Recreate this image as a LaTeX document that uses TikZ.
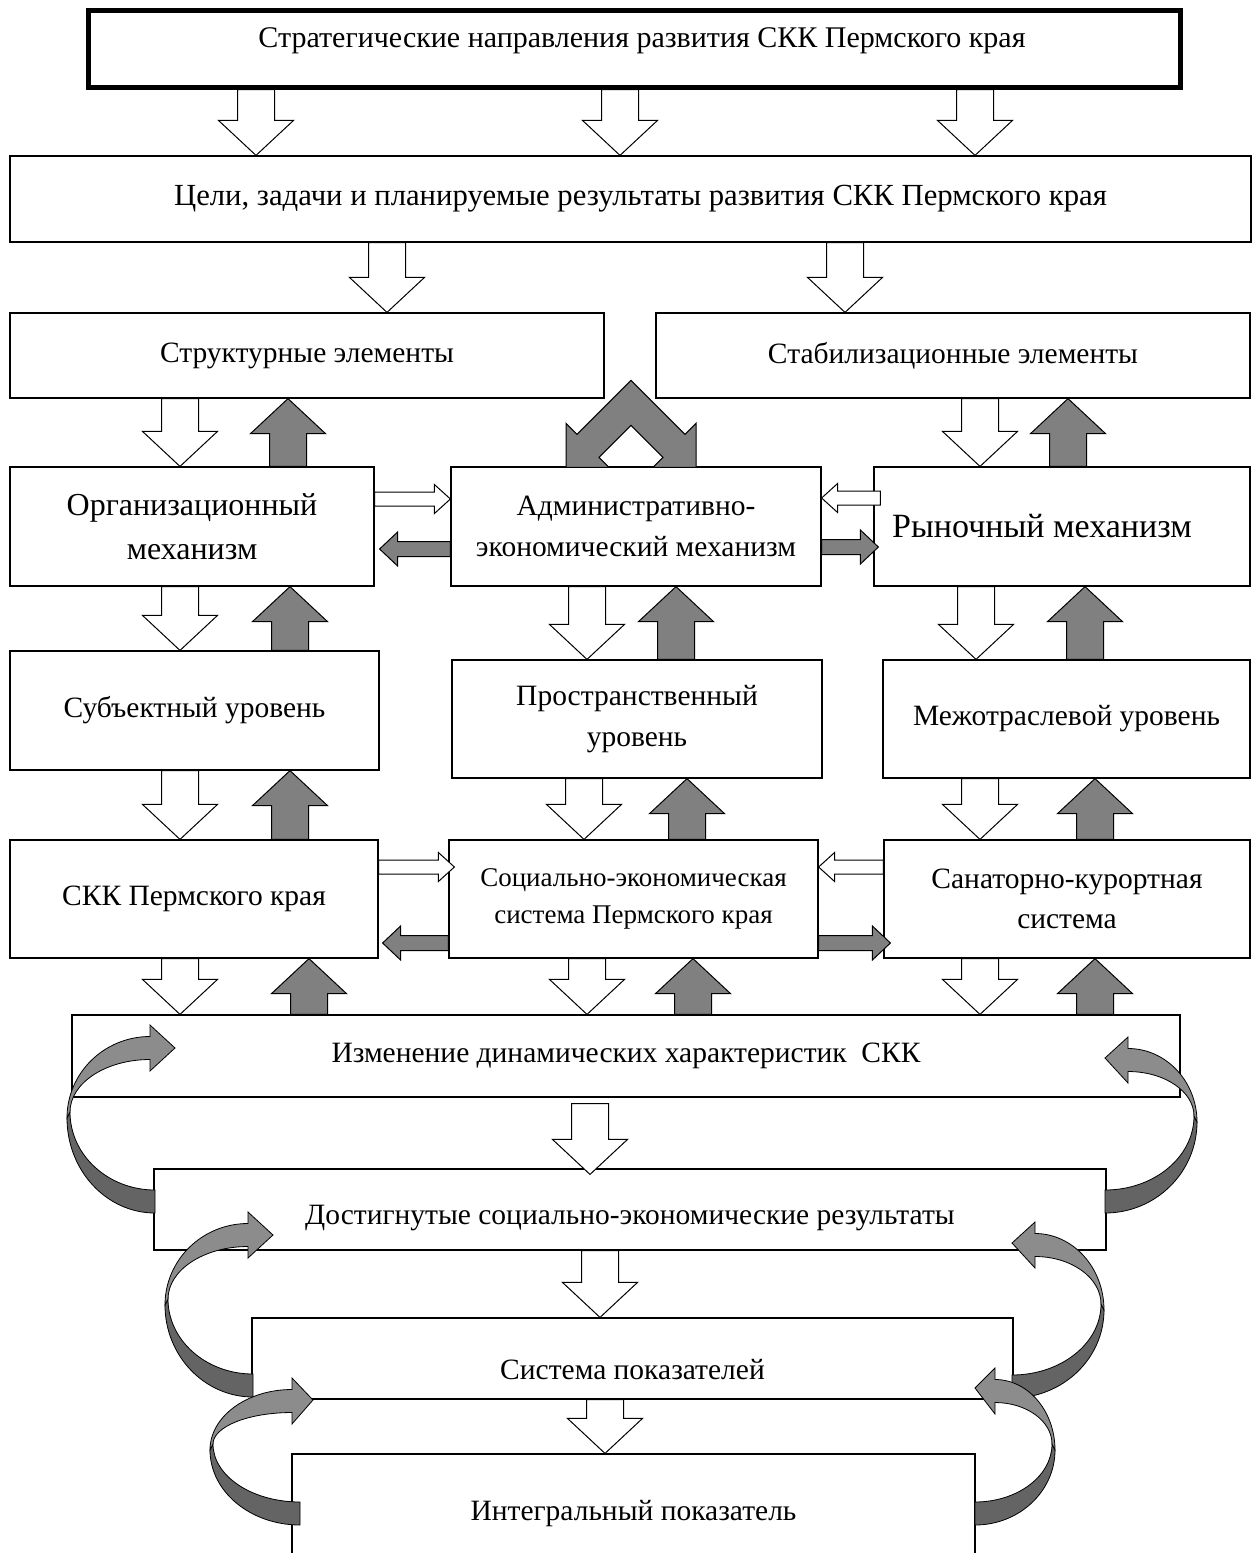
\documentclass[tikz,border=0pt]{standalone}
\usepackage{fontspec}
\setmainfont{Liberation Serif}
\usetikzlibrary{calc}

\definecolor{blockgray}{RGB}{128,128,128}
\definecolor{curllight}{RGB}{140,140,140}
\definecolor{curldark}{RGB}{100,100,100}

\tikzset{
  box/.style={draw=black, line width=1.2pt, rectangle, fill=white, inner sep=0pt,
    align=center, font=\fontsize{29.5}{40.5}\selectfont},
  wblk/.style={fill=white, draw=black, line width=1pt, line join=miter},
  gblk/.style={fill=blockgray, draw=black, line width=1pt, line join=miter},
  curlline/.style={draw=black, line width=0.8pt},
}

% vertical block arrow pointing down: style, x, tail anchor (upper), tip anchor (lower)
\newcommand\dblk[4]{%
  \filldraw[#1] let \p1=(#3), \p2=(#4) in
    ({#2pt-18.5pt},\y1) -- ({#2pt-18.5pt},{\y2+35pt}) -- ({#2pt-37.5pt},{\y2+35pt})
    -- (#2pt,\y2) -- ({#2pt+37.5pt},{\y2+35pt}) -- ({#2pt+18.5pt},{\y2+35pt})
    -- ({#2pt+18.5pt},\y1) -- cycle;}
% vertical block arrow pointing up: style, x, tail anchor (lower), tip anchor (upper)
\newcommand\ublk[4]{%
  \filldraw[#1] let \p1=(#3), \p2=(#4) in
    ({#2pt-18.5pt},\y1) -- ({#2pt-18.5pt},{\y2-35pt}) -- ({#2pt-37.5pt},{\y2-35pt})
    -- (#2pt,\y2) -- ({#2pt+37.5pt},{\y2-35pt}) -- ({#2pt+18.5pt},{\y2-35pt})
    -- ({#2pt+18.5pt},\y1) -- cycle;}
% horizontal block arrow pointing right: style, y, tail, tip, stem half, head half, head length
\newcommand\rblk[7]{%
  \filldraw[#1] let \p1=(#3), \p2=(#4) in
    (\x1,{-#2pt+#5pt}) -- ({\x2-#7pt},{-#2pt+#5pt}) -- ({\x2-#7pt},{-#2pt+#6pt})
    -- (\x2,-#2pt) -- ({\x2-#7pt},{-#2pt-#6pt}) -- ({\x2-#7pt},{-#2pt-#5pt})
    -- (\x1,{-#2pt-#5pt}) -- cycle;}
% horizontal block arrow pointing left
\newcommand\lblk[7]{%
  \filldraw[#1] let \p1=(#3), \p2=(#4) in
    (\x1,{-#2pt+#5pt}) -- ({\x2+#7pt},{-#2pt+#5pt}) -- ({\x2+#7pt},{-#2pt+#6pt})
    -- (\x2,-#2pt) -- ({\x2+#7pt},{-#2pt-#6pt}) -- ({\x2+#7pt},{-#2pt-#5pt})
    -- (\x1,{-#2pt-#5pt}) -- cycle;}

% twisted curved arrow: tail x, tail bottom y, outer x, outer y,
% head base x, head centre y, tip x, tip y
\newcommand\curl[8]{%
  \pgfmathsetmacro\crlTa{#2-23}%
  \pgfmathsetmacro\crlIx{#3+3*sign(#1-#3)}%
  \pgfmathsetmacro\crlIy{#4-6}%
  \pgfmathsetmacro\crlSa{#6-11.5}%
  \pgfmathsetmacro\crlSb{#6+11.5}%
  \pgfmathsetmacro\crlBa{#6-23}%
  \pgfmathsetmacro\crlBb{#6+23}%
  \filldraw[curlline, fill=curldark]
    (#3,#4) .. controls (#3,{#4+0.552*(#2-#4)}) and ({#1-0.552*(#1-#3)},#2) .. (#1,#2)
    -- (#1,\crlTa) .. controls ({#1-0.552*(#1-\crlIx)},\crlTa) and (\crlIx,{\crlIy+0.552*(\crlTa-\crlIy)}) .. (\crlIx,\crlIy)
    -- cycle;
  \filldraw[curlline, fill=curllight]
    (#3,#4) .. controls (#3,{#4-0.552*(#4-\crlSa)}) and ({#5-0.552*(#5-#3)},\crlSa) .. (#5,\crlSa)
    -- (#5,\crlBa) -- (#7,#8) -- (#5,\crlBb) -- (#5,\crlSb)
    .. controls ({#5-0.552*(#5-\crlIx)},\crlSb) and (\crlIx,{\crlIy-0.552*(\crlIy-\crlSb)}) .. (\crlIx,\crlIy)
    -- cycle;}

\begin{document}
\begin{tikzpicture}[x=1pt,y=-1pt]
\useasboundingbox (0,0) rectangle (1253,1553);
\clip (0,0) rectangle (1253,1553);

% boxes
\node[box, line width=5pt, minimum width=1092pt, minimum height=77pt,
      font=\fontsize{30}{41}\selectfont,
      text height=21pt, text depth=23pt] (top) at (634,48.5)
  {\hspace*{16pt}Стратегические направления развития СКК Пермского края};
\node[box, minimum width=1241pt, minimum height=86pt, font=\fontsize{30.7}{42}\selectfont]
  (goals) at (630.5,199)
  {\hspace*{20pt}Цели, задачи и планируемые результаты развития СКК Пермского края};
\node[box, minimum width=594pt, minimum height=85pt] (struct) at (307,355.5)
  {Структурные элементы};
\node[box, minimum width=594pt, minimum height=85pt] (stab) at (953,355.5)
  {Стабилизационные элементы};

\node[box, minimum width=364pt, minimum height=119pt, font=\fontsize{32}{44}\selectfont]
  (org) at (192,526.5) {Организационный\\механизм};
\node[box, minimum width=370pt, minimum height=119pt] (admin) at (636,526.5)
  {Административно-\\экономический механизм};
\node[box, minimum width=376pt, minimum height=119pt, font=\fontsize{34}{46}\selectfont]
  (market) at (1062,526.5) {Рыночный механизм\hspace*{40pt}};

\node[box, minimum width=369pt, minimum height=119pt] (subj) at (194.5,710.5)
  {Субъектный уровень};
\node[box, minimum width=370pt, minimum height=118pt] (spatial) at (637,719)
  {Пространственный\\уровень};
\node[box, minimum width=367pt, minimum height=118pt] (inter) at (1066.5,719)
  {Межотраслевой уровень};

\node[box, minimum width=368pt, minimum height=118pt] (skk) at (194,899)
  {СКК Пермского края};
\node[box, minimum width=369pt, minimum height=118pt, font=\fontsize{27}{37}\selectfont]
  (socec) at (633.5,899) {Социально-экономическая\\система Пермского края};
\node[box, minimum width=366pt, minimum height=118pt] (sanat) at (1067,899)
  {Санаторно-курортная\\система};

\node[box, minimum width=1108pt, minimum height=82pt] (dyn) at (626,1056)
  {Изменение динамических характеристик\ \ СКК};
\node[box, minimum width=952pt, minimum height=81pt, text height=35pt, text depth=6pt]
  (res) at (630,1209.5) {Достигнутые социально-экономические результаты};
\node[box, minimum width=761pt, minimum height=81pt, text height=47pt, text depth=6pt]
  (ind) at (632.5,1358.5) {Система показателей};
\node[box, minimum width=683pt, minimum height=146pt, text height=21pt, text depth=34pt]
  (integ) at (633.5,1527) {Интегральный показатель};

% top-down arrows
\dblk{wblk}{256}{top.south}{goals.north}
\dblk{wblk}{620}{top.south}{goals.north}
\dblk{wblk}{975}{top.south}{goals.north}
\dblk{wblk}{387}{goals.south}{struct.north}
\dblk{wblk}{845}{goals.south}{stab.north}

\dblk{wblk}{180}{struct.south}{org.north}
\ublk{gblk}{288}{org.north}{struct.south}
\dblk{wblk}{980}{stab.south}{market.north}
\ublk{gblk}{1068}{market.north}{stab.south}

% double-headed chevron from the administrative mechanism
\begin{scope}[shift={(admin.north)}]
  \filldraw[gblk] (-5,-86) -- (49,-32) -- (60,-43) -- (60,1) -- (17,1) -- (27,-9)
    -- (-5,-41) -- (-37,-9) -- (-27,1) -- (-70,1) -- (-70,-43) -- (-59,-32) -- cycle;
\end{scope}

% mechanisms <-> levels
\dblk{wblk}{180}{org.south}{subj.north}
\ublk{gblk}{290}{subj.north}{org.south}
\dblk{wblk}{587}{admin.south}{spatial.north}
\ublk{gblk}{676}{spatial.north}{admin.south}
\dblk{wblk}{976}{market.south}{inter.north}
\ublk{gblk}{1085}{inter.north}{market.south}

% levels <-> systems
\dblk{wblk}{180}{subj.south}{skk.north}
\ublk{gblk}{290}{skk.north}{subj.south}
\dblk{wblk}{584}{spatial.south}{socec.north}
\ublk{gblk}{687}{socec.north}{spatial.south}
\dblk{wblk}{980}{inter.south}{sanat.north}
\ublk{gblk}{1095}{sanat.north}{inter.south}

% systems <-> dynamics
\dblk{wblk}{180}{skk.south}{dyn.north}
\ublk{gblk}{309}{dyn.north}{skk.south}
\dblk{wblk}{587}{socec.south}{dyn.north}
\ublk{gblk}{693}{dyn.north}{socec.south}
\dblk{wblk}{980}{sanat.south}{dyn.north}
\ublk{gblk}{1095}{dyn.north}{sanat.south}

% result chain
\dblk{wblk}{590}{$(dyn.south)+(0,6)$}{$(res.north)+(0,6)$}
\dblk{wblk}{600}{res.south}{ind.north}
\dblk{wblk}{605}{ind.south}{integ.north}

% horizontal links between mechanisms
\rblk{wblk}{499}{org.east}{admin.west}{7}{14.5}{16}
\lblk{gblk}{549}{admin.west}{$(org.east)+(5,0)$}{7.5}{17}{18}
\lblk{wblk}{498}{$(market.west)+(7,0)$}{admin.east}{7}{14.5}{16}
\rblk{gblk}{547}{admin.east}{$(market.west)+(5,0)$}{7.5}{17}{18}

% horizontal links between systems
\rblk{wblk}{867}{skk.east}{$(socec.west)+(6,0)$}{7}{14.5}{16}
\lblk{gblk}{943}{socec.west}{$(skk.east)+(4,0)$}{7.5}{17}{18}
\lblk{wblk}{867}{sanat.west}{socec.east}{7}{14.5}{16}
\rblk{gblk}{943}{socec.east}{$(sanat.west)+(7,0)$}{7.5}{17}{18}

% feedback curls
\curl{155}{1213}{67}{1118}{150}{1048}{175}{1048}
\curl{253}{1397}{165}{1305}{248}{1235}{273}{1235}
\curl{300}{1525}{210}{1450}{292}{1401}{313}{1400}
\curl{1105}{1213}{1197}{1122}{1128}{1060}{1105}{1058}
\curl{1012}{1398}{1104}{1310}{1035}{1245}{1012}{1243}
\curl{975}{1525}{1055}{1450}{995}{1391}{975}{1388}
\end{tikzpicture}
\end{document}
